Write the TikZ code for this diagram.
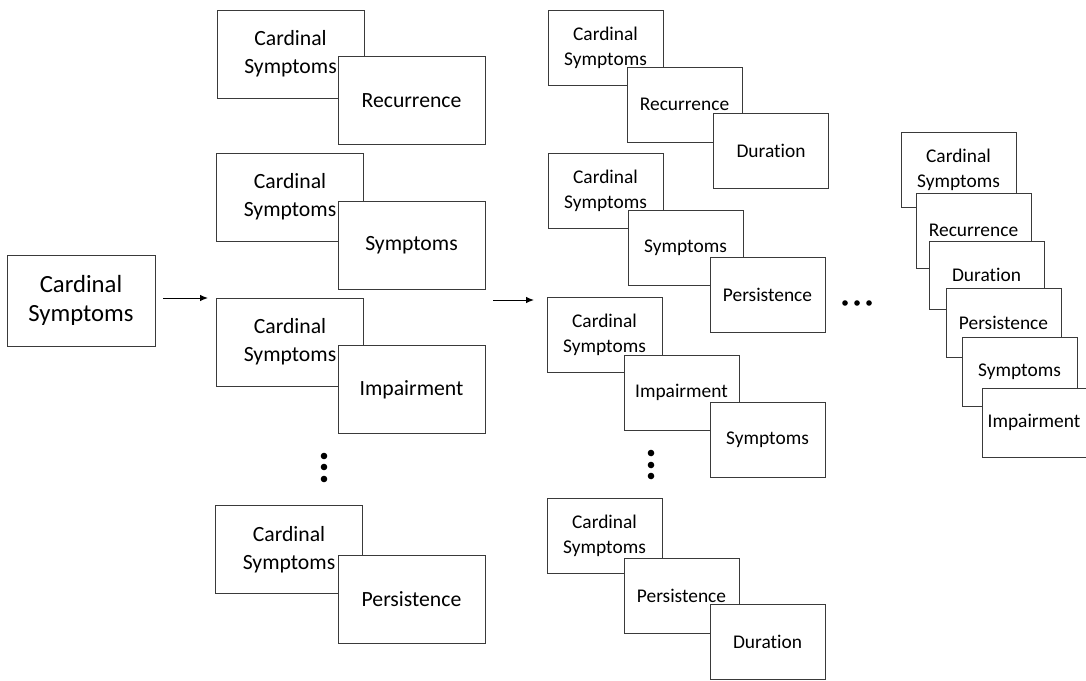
\documentclass[tikz,border=0pt]{standalone}
\usepackage{fontspec}
\setmainfont{Carlito}[Ligatures=NoCommon]
\usetikzlibrary{arrows.meta}
\definecolor{boxline}{HTML}{3A3A3A}
\begin{document}
\begin{tikzpicture}[x=1pt,y=-1pt,
  box/.style={draw=boxline,line width=1pt,fill=white,inner sep=0pt,outer sep=0pt,align=center},
  bigbox/.style={box,minimum width=148pt,minimum height=91pt,font=\fontsize{24.7}{29}\selectfont},
  midbox/.style={box,minimum width=147pt,minimum height=88pt,font=\fontsize{21.7}{28}\selectfont},
  smallbox/.style={box,minimum width=115pt,minimum height=75pt,font=\fontsize{19.4}{25}\selectfont},
  dotfill/.style={fill=black,draw=none},
  arr/.style={-{Latex[length=8pt,width=6.5pt]},line width=1pt,draw=black}]
\useasboundingbox (0,0) rectangle (1086,680);
\clip (0,0) rectangle (1086,680);

% left box
\node[bigbox] (big) at (81,300.5) {Cardinal\\Symptoms};

% column 2
\node[midbox] (b1a) at (290.5,54) {Cardinal\\Symptoms};
\node[midbox] (b1b) at (411.5,100.5) {Recurrence};
\node[midbox] (b2a) at (290,197) {Cardinal\\Symptoms};
\node[midbox] (b2b) at (411.5,245) {Symptoms};
\node[midbox] (b3a) at (290,342) {Cardinal\\Symptoms};
\node[midbox] (b3b) at (411.5,389.5) {Impairment};
\node[midbox] (b4a) at (289,549.5) {Cardinal\\Symptoms};
\node[midbox] (b4b) at (411.5,599) {Persistence};

% column 3
\node[smallbox] (c1a) at (605.5,47.5) {Cardinal\\Symptoms};
\node[smallbox] (c1b) at (684.5,104.5) {Recurrence};
\node[smallbox] (c1c) at (771,150.5) {Duration};
\node[smallbox] (c2a) at (605.5,190.5) {Cardinal\\Symptoms};
\node[smallbox] (c2b) at (685.5,248) {Symptoms};
\node[smallbox] (c2c) at (767.5,294.5) {Persistence};
\node[smallbox] (c3a) at (604.5,335) {Cardinal\\Symptoms};
\node[smallbox] (c3b) at (681.5,392.5) {Impairment};
\node[smallbox] (c3c) at (767.5,439.5) {Symptoms};
\node[smallbox] (c4a) at (604.5,535.5) {Cardinal\\Symptoms};
\node[smallbox] (c4b) at (681.5,595.5) {Persistence};
\node[smallbox] (c4c) at (767.5,642) {Duration};

% column 4
\node[smallbox] (d1) at (958.5,169.5) {Cardinal\\Symptoms};
\node[smallbox] (d2) at (973.5,230.5) {Recurrence};
\node[smallbox,minimum height=68pt] (d3) at (986.5,275) {Duration};
\node[smallbox,minimum height=69pt] (d4) at (1003.5,322.5) {Persistence};
\node[smallbox,minimum height=69pt] (d5) at (1019.5,371.5) {Symptoms};
\node[smallbox,minimum height=69pt] (d6) at (1039.5,422.5) {};
\node[font=\fontsize{19.4}{25}\selectfont,inner sep=0pt] (d6t) at (1034,422.5) {Impairment};

% arrows
\coordinate (a1s) at (163,298);
\coordinate (a1e) at (208,298);
\coordinate (a2s) at (493,300);
\coordinate (a2e) at (534,300);
\draw[arr] (a1s) -- (a1e);
\draw[arr] (a2s) -- (a2e);

% vertical dots
\foreach \yy in {456,467,479} \fill[dotfill] (324,\yy) circle (3.3pt);
\foreach \yy in {453,465,476} \fill[dotfill] (651,\yy) circle (3.3pt);
% horizontal dots
\foreach \xx in {845,857,869} \fill[dotfill] (\xx,303) circle (2.8pt);
\end{tikzpicture}
\end{document}
